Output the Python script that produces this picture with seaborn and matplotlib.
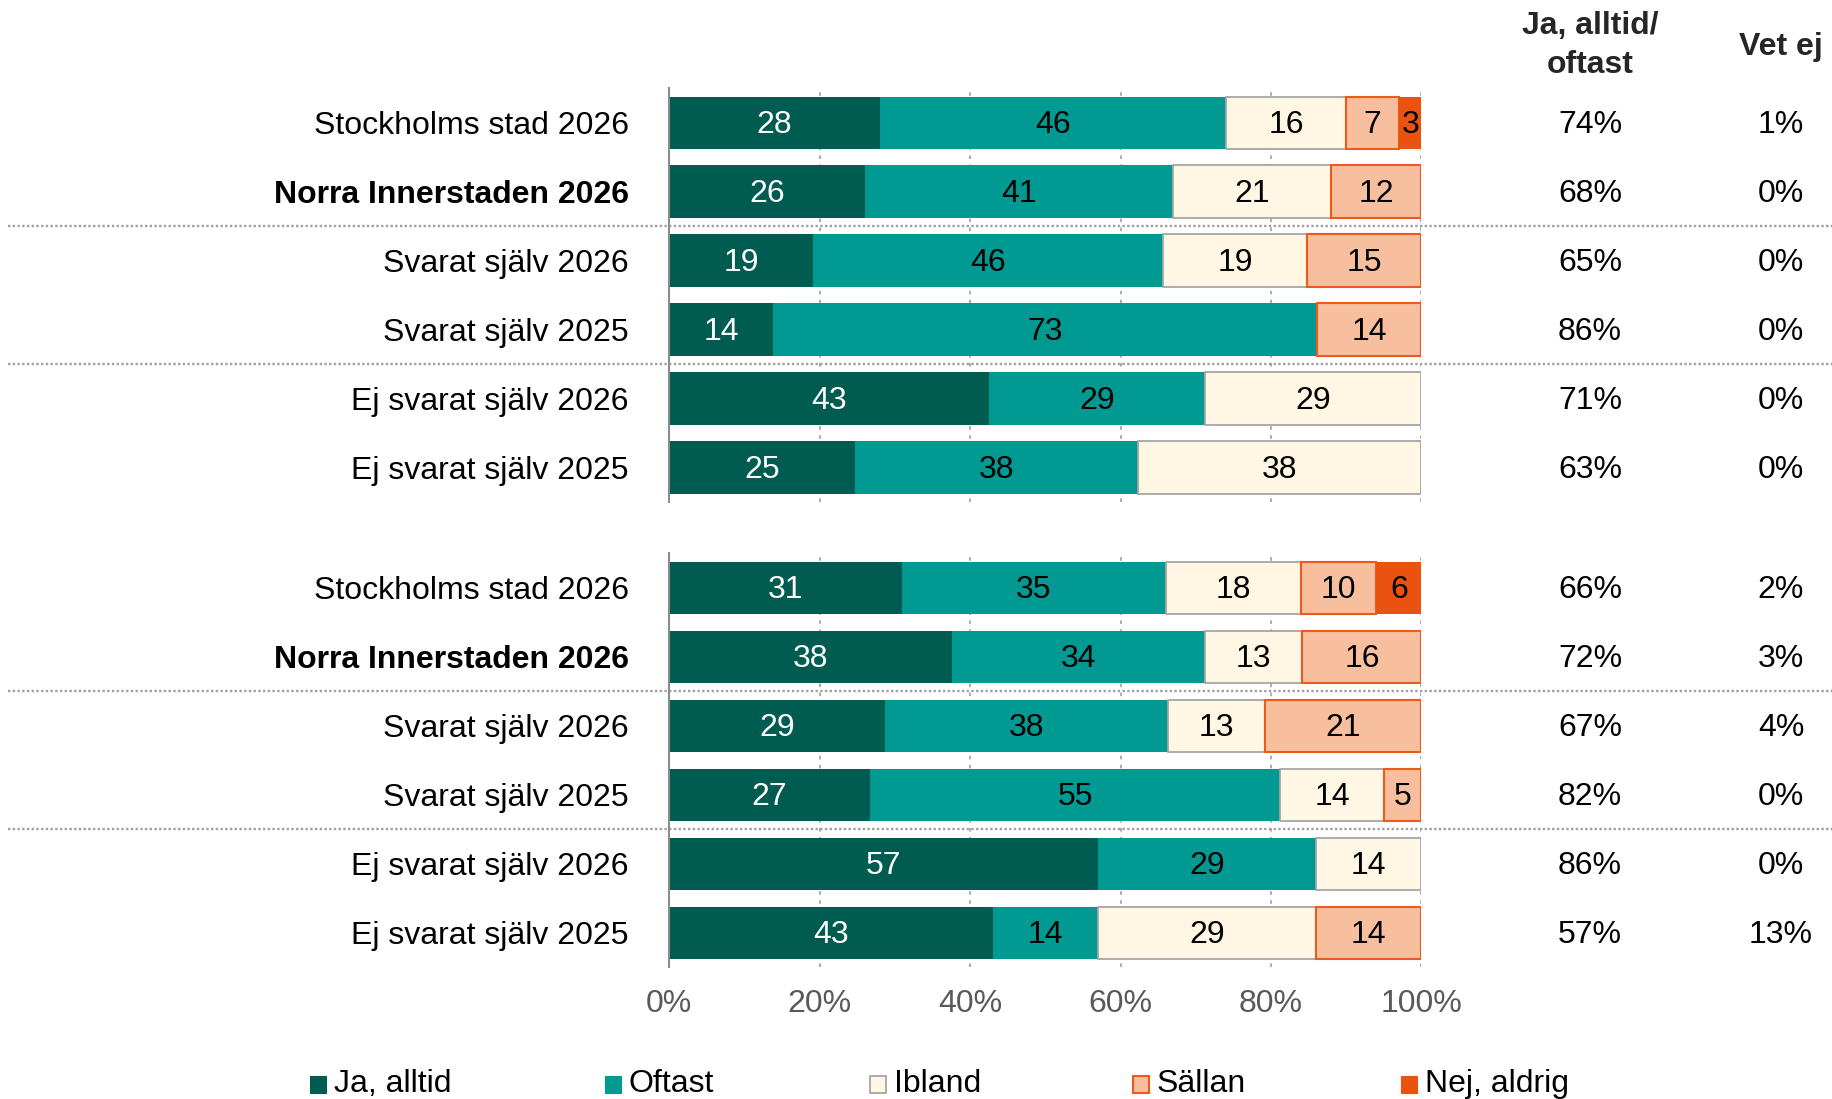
import numpy as np
import pandas as pd
import matplotlib
matplotlib.use("Agg")
import matplotlib.pyplot as plt
import seaborn as sns
from matplotlib.transforms import blended_transform_factory, offset_copy
from matplotlib.patches import Rectangle

# ---------------- data ----------------
categories = ["Ja, alltid", "Oftast", "Ibland", "Sällan", "Nej, aldrig"]
row_labels = ["Stockholms stad 2026", "Norra Innerstaden 2026", "Svarat själv 2026",
              "Svarat själv 2025", "Ej svarat själv 2026", "Ej svarat själv 2025"]
bold_rows = ["Norra Innerstaden 2026"]

top_ja_alltid = [28, 26, 19, 14, 43, 25]
top_oftast = [46, 41, 46, 73, 29, 38]
top_ibland = [16, 21, 19, 0, 29, 38]
top_sallan = [7, 12, 15, 14, 0, 0]
top_nej = [3, 0, 0, 0, 0, 0]
top_ja_oftast = ["74%", "68%", "65%", "86%", "71%", "63%"]
top_vet_ej = ["1%", "0%", "0%", "0%", "0%", "0%"]

bot_ja_alltid = [31, 38, 29, 27, 57, 43]
bot_oftast = [35, 34, 38, 55, 29, 14]
bot_ibland = [18, 13, 13, 14, 14, 29]
bot_sallan = [10, 16, 21, 5, 0, 14]
bot_nej = [6, 0, 0, 0, 0, 0]
bot_ja_oftast = ["66%", "72%", "67%", "82%", "86%", "57%"]
bot_vet_ej = ["2%", "3%", "4%", "0%", "0%", "13%"]

tick_values = [0, 20, 40, 60, 80, 100]
tick_labels = ["0%", "20%", "40%", "60%", "80%", "100%"]
col_headers = ["Ja, alltid/\noftast", "Vet ej"]

# ---------------- style ----------------
face_colors = ["#005c50", "#009a92", "#fff6e3", "#f8bf9f", "#e9520f"]
edge_colors = ["#005c50", "#009a92", "#a6a6a6", "#ec5a1c", "#e9520f"]
edge_widths = [0, 0, 1.3, 1.5, 0]
text_colors = ["white", "black", "black", "black", "black"]
FS = 23

sns.set_theme(style="white")
plt.rcParams["font.family"] = ["Liberation Sans", "DejaVu Sans"]

fig = plt.figure(figsize=(18.33, 10.99), dpi=100)
ax1 = fig.add_axes([0.365, 0.5432, 0.4105, 0.3765])
ax2 = fig.add_axes([0.365, 0.1197, 0.4105, 0.3767])

col_x = [0.8674, 0.9716]
sep_color = "#a0a0a0"


def draw_panel(ax, series, ja_oftast, vet_ej, show_xticks):
    vals = np.array(series, dtype=float)
    totals = vals.sum(axis=0)
    widths = vals / totals * 100.0
    lefts = np.vstack([np.zeros(vals.shape[1]), np.cumsum(widths, axis=0)[:-1]])
    for i, cat in enumerate(categories):
        df = pd.DataFrame({"label": row_labels, "value": widths[i]})
        sns.barplot(data=df, x="value", y="label", order=row_labels, orient="y",
                    ax=ax, left=lefts[i], color=face_colors[i], saturation=1,
                    edgecolor=edge_colors[i], linewidth=edge_widths[i],
                    width=0.76, errorbar=None, zorder=3)
        cont = ax.containers[-1]
        for patch, v in zip(cont, vals[i]):
            patch.set_facecolor(face_colors[i])
            patch.set_edgecolor(edge_colors[i])
            patch.set_linewidth(edge_widths[i])
            if v == 0:
                patch.set_visible(False)
        labels = [str(int(v)) if v > 0 else "" for v in vals[i]]
        anns = ax.bar_label(cont, labels=labels, label_type="center",
                            color=text_colors[i], fontsize=FS, zorder=5)
        for a in anns:
            a.xyann = (0, -1.5)

    ax.set_xlim(0, 100)
    ax.set_ylim(len(row_labels) - 0.5, -0.5)
    ax.set_xlabel("")
    ax.set_ylabel("")
    ax.set_xticks(tick_values)
    if show_xticks:
        ax.set_xticklabels(tick_labels, fontsize=FS, color="#595959")
    else:
        ax.set_xticklabels([])
    ax.tick_params(axis="x", length=0, pad=15.5)
    ax.set_yticks(range(len(row_labels)))
    ax.set_yticklabels(row_labels, fontsize=FS, color="black")
    ax.tick_params(axis="y", length=0, pad=29)
    for lbl in ax.get_yticklabels():
        if lbl.get_text() in bold_rows:
            lbl.set_fontweight("bold")
    for s in ["top", "right", "bottom"]:
        ax.spines[s].set_visible(False)
    ax.spines["left"].set_color("#8c8c8c")
    ax.spines["left"].set_linewidth(1.5)
    ax.spines["left"].set_zorder(6)
    ax.set_axisbelow(True)
    ax.xaxis.grid(True, color="#a6a6a6", linestyle=(0, (2, 3)), linewidth=1.3)
    ax.yaxis.grid(False)
    ax.set_facecolor("none")

    trans = blended_transform_factory(fig.transFigure, ax.transData)
    ttrans = offset_copy(trans, fig=fig, x=0, y=-1.5, units="points")
    for r in range(len(row_labels)):
        ax.text(col_x[0], r, ja_oftast[r], transform=ttrans, ha="center", va="center",
                fontsize=FS, color="black")
        ax.text(col_x[1], r, vet_ej[r], transform=ttrans, ha="center", va="center",
                fontsize=FS, color="black")
    for yy in [1.5, 3.5]:
        ax.plot([0.0045, 1.0], [yy, yy], transform=trans, color=sep_color,
                linestyle=(0, (1, 1)), linewidth=1.7, clip_on=False, zorder=1)


draw_panel(ax1, [top_ja_alltid, top_oftast, top_ibland, top_sallan, top_nej],
           top_ja_oftast, top_vet_ej, False)
draw_panel(ax2, [bot_ja_alltid, bot_oftast, bot_ibland, bot_sallan, bot_nej],
           bot_ja_oftast, bot_vet_ej, True)

# column headers
fig.text(col_x[0], 0.9585, col_headers[0], ha="center", va="center", fontsize=FS,
         fontweight="bold", linespacing=1.42)
fig.text(col_x[1], 0.9575, col_headers[1], ha="center", va="center", fontsize=FS,
         fontweight="bold")

# legend (manual, matching the original's placement)
leg_marker_x = [310, 605, 870, 1133, 1401]
leg_y = 1084
W, H = 1833.0, 1099.0
for i, cat in enumerate(categories):
    x0 = leg_marker_x[i] / W
    y0 = (H - leg_y) / H
    lw = edge_widths[i] if edge_widths[i] > 0 else 0
    rect = Rectangle((x0, y0 - 8.5 / H), 16 / W, 17 / H, transform=fig.transFigure,
                     facecolor=face_colors[i], edgecolor=edge_colors[i],
                     linewidth=max(lw, 0.8))
    fig.patches.append(rect)
    fig.text(x0 + 24 / W, y0, cat, ha="left", va="center", fontsize=FS, color="black")

fig.savefig("out.png", dpi=100)
